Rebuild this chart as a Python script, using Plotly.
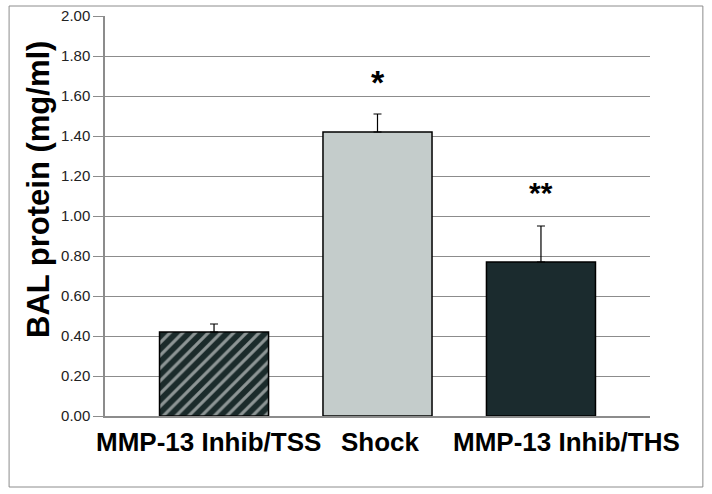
import plotly.graph_objects as go

# Data
groups = ["MMP-13 Inhib/TSS", "Shock", "MMP-13 Inhib/THS"]
bal_protein = [0.42, 1.42, 0.77]
sem = [0.04, 0.09, 0.18]
marks = ["", "*", "**"]
mark_y = [0, 1.67, 1.12]
mark_size = [0, 34, 30]
y_ticks = [0.0, 0.2, 0.4, 0.6, 0.8, 1.0, 1.2, 1.4, 1.6, 1.8, 2.0]

fills = ["#1b2b2b", "#c4cccb", "#1b2b2e"]
patterns = ["/", "", ""]
label_shift = [-6, 3, 26]  # category labels sit a little off-centre in the original

fig = go.Figure(go.Bar(
    x=groups,
    y=bal_protein,
    width=0.667,
    marker=dict(
        color=fills,
        line=dict(color="#000000", width=1.5),
        pattern=dict(shape=patterns, fgcolor="#a9bfbf",
                     size=9, solidity=0.35, fillmode="overlay"),
    ),
    error_y=dict(type="data", array=sem, arrayminus=[0, 0, 0], symmetric=False,
                 color="#000000", thickness=1.2, width=4),
    showlegend=False,
))

for g, m, yy, sz in zip(groups, marks, mark_y, mark_size):
    if m:
        fig.add_annotation(x=g, y=yy, text=f"<b>{m}</b>", showarrow=False,
                           font=dict(size=sz, color="#000000"))

# category labels
for g, dx in zip(groups, label_shift):
    fig.add_annotation(x=g, y=0, yref="y", text=f"<b>{g}</b>", showarrow=False,
                       xshift=dx, yshift=-26, font=dict(size=26, color="#000000"))

# y-axis title (sits above centre in the original)
fig.add_annotation(xref="paper", yref="paper", x=-0.123, y=0.5675,
                   xanchor="center", yanchor="middle",
                   text="<b>BAL protein (mg/ml)</b>", textangle=-90, showarrow=False,
                   font=dict(size=31, color="#000000"))

# outer frame
fig.add_shape(type="rect", xref="paper", yref="paper",
              x0=-0.176, x1=1.097, y0=-0.1775, y1=1.025,
              line=dict(color="#8c8c8c", width=1))

fig.update_layout(
    width=712, height=494,
    margin=dict(l=105, r=62, t=16, b=78),
    plot_bgcolor="white", paper_bgcolor="white",
    font=dict(family="Arial, Liberation Sans", color="#222222"),
    xaxis=dict(
        range=[-0.667, 2.667], automargin=False,
        showline=True, linecolor="#8c8c8c", linewidth=1.5,
        ticks="", showticklabels=False,
    ),
    yaxis=dict(
        range=[0, 2.0], tickvals=y_ticks, tickformat=".2f", automargin=False,
        showgrid=True, gridcolor="#8c8c8c", gridwidth=1,
        showline=True, linecolor="#8c8c8c", linewidth=1.5,
        ticks="outside", ticklen=10, tickcolor="#8c8c8c",
        tickfont=dict(size=15, color="#222222"),
        zeroline=False,
    ),
)

fig.write_html("out.html", config={"displayModeBar": False},
               post_script="document.body.style.margin='0px';")
